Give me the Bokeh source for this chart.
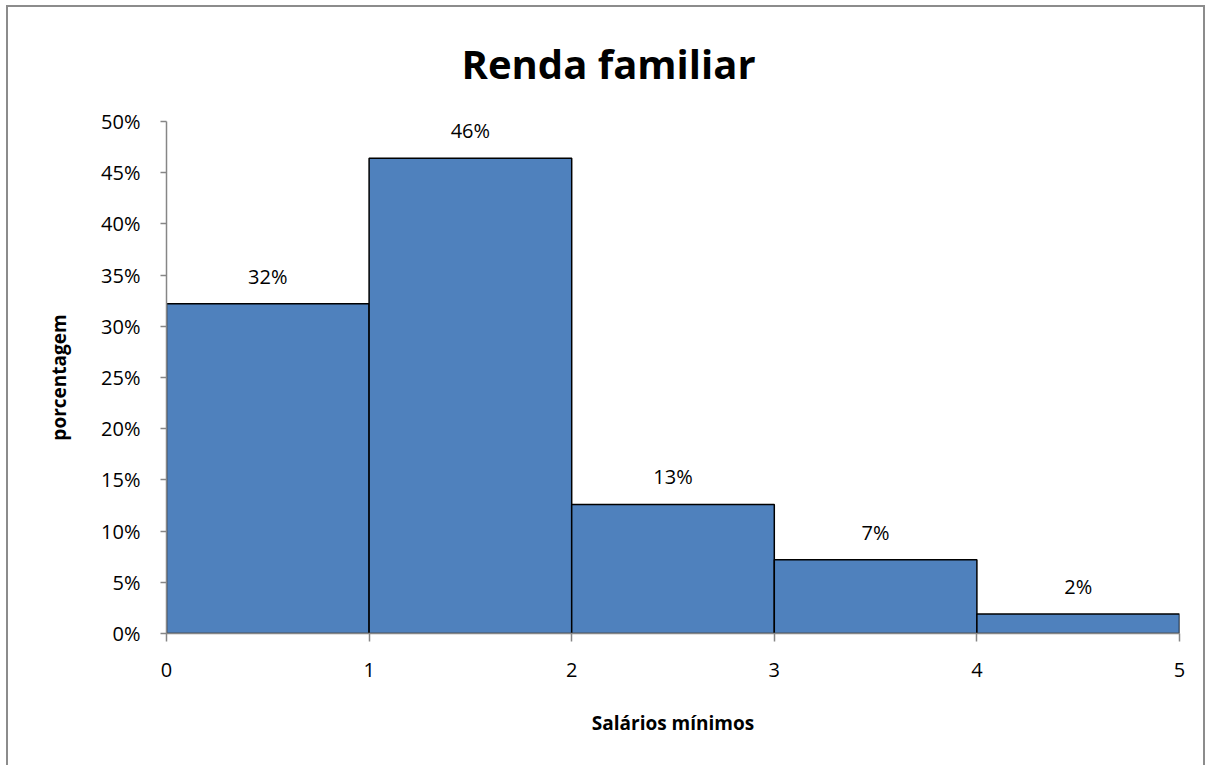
from bokeh.plotting import figure
from bokeh.models import ColumnDataSource, LabelSet, FixedTicker, NumeralTickFormatter, Range1d
from bokeh.core.properties import value
from bokeh.embed import file_html
from bokeh.resources import INLINE

# data
bin_left = [0, 1, 2, 3, 4]
bin_right = [1, 2, 3, 4, 5]
share = [0.322, 0.464, 0.126, 0.072, 0.019]
labels = ["32%", "46%", "13%", "7%", "2%"]
y_ticks = [0, 0.05, 0.10, 0.15, 0.20, 0.25, 0.30, 0.35, 0.40, 0.45, 0.50]
x_ticks = [0, 1, 2, 3, 4, 5]
title_text = "Renda familiar"

FONT = "Open Sans"
GRAY = "#868686"

p = figure(width=1199, height=760, output_backend="svg", toolbar_location=None,
           x_range=Range1d(0, 5), y_range=Range1d(0, 0.5),
           min_border_left=158, min_border_right=28, min_border_top=114, min_border_bottom=134,
           title=title_text,
           styles={"margin-left": "6px", "margin-top": "5px",
                   "border-left": "2px solid #8c8c8c", "border-top": "2px solid #8c8c8c",
                   "border-right": "2px solid #8c8c8c"})

p.title.align = "left"
p.title.offset = 295
p.title.vertical_align = "top"
p.title.standoff = 57
p.title.text_font = FONT
p.title.text_font_size = "40px"
p.title.text_font_style = "bold"
p.title.text_color = "black"

src = ColumnDataSource(dict(left=bin_left, right=bin_right, top=share,
                            mid=[(a + b) / 2 for a, b in zip(bin_left, bin_right)],
                            label=labels))
p.quad(left="left", right="right", bottom=0, top="top", source=src,
       fill_color="#4F81BD", line_color="black", line_width=1.5)

p.add_layout(LabelSet(x="mid", y="top", text="label", source=src,
                      text_align="center", text_baseline="alphabetic", y_offset=20,
                      text_font=value(FONT), text_font_size=value("20px"),
                      text_color="black"))

p.xgrid.visible = False
p.ygrid.visible = False
p.outline_line_color = None

p.yaxis.ticker = FixedTicker(ticks=y_ticks)
p.yaxis.formatter = NumeralTickFormatter(format="0%")
p.xaxis.ticker = FixedTicker(ticks=x_ticks)

for ax in (p.xaxis[0], p.yaxis[0]):
    ax.axis_line_color = GRAY
    ax.axis_line_width = 1.5
    ax.major_tick_line_color = GRAY
    ax.major_tick_line_width = 1.5
    ax.minor_tick_line_color = None
    ax.major_tick_in = 0
    ax.major_label_text_font = FONT
    ax.major_label_text_font_size = "20px"
    ax.major_label_text_color = "black"
    ax.axis_label_text_font = FONT
    ax.axis_label_text_font_size = "19px"
    ax.axis_label_text_font_style = "bold"
    ax.axis_label_text_color = "black"

p.yaxis.major_tick_out = 6
p.yaxis.major_label_standoff = 20
p.yaxis.axis_label = "porcentagem"
p.yaxis.axis_label_standoff = 26

p.xaxis.major_tick_out = 8
p.xaxis.major_label_standoff = 21
p.xaxis.axis_label = "Salários mínimos"
p.xaxis.axis_label_standoff = 30

open("out.html", "w").write(file_html(p, INLINE))
